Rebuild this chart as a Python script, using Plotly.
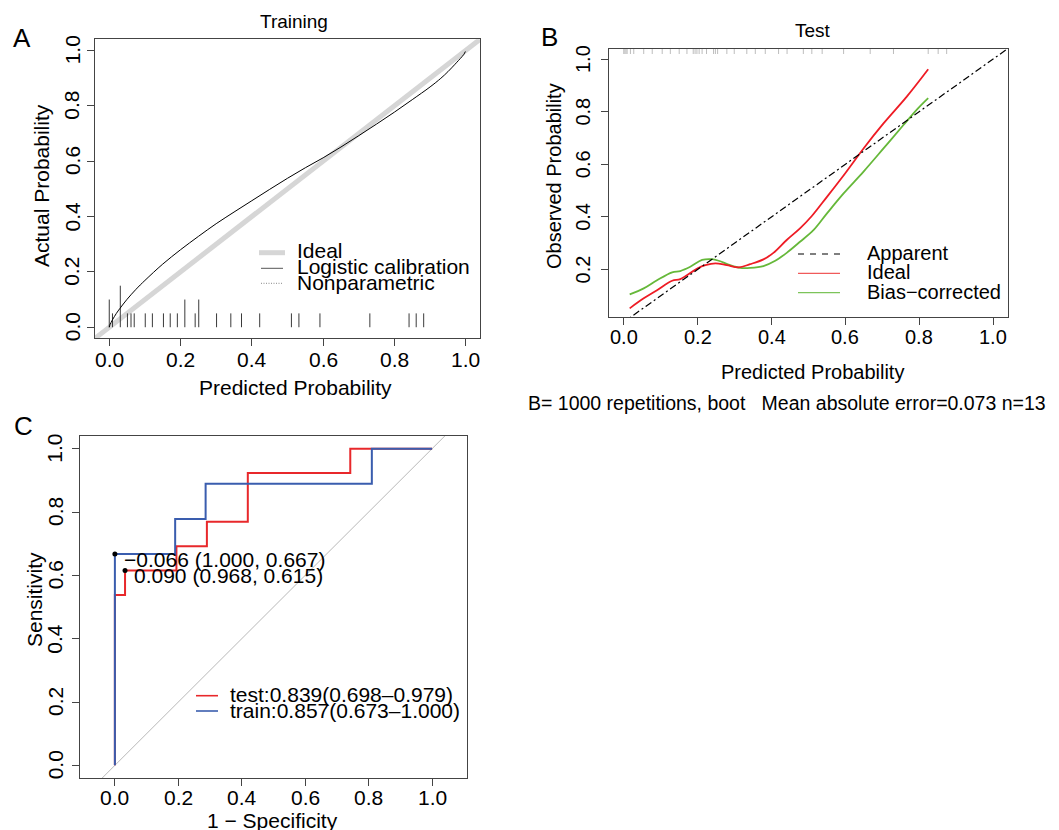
import plotly.graph_objects as go

W, H = 1059, 830
OFF = 8  # page body margin of the html page
F = "Liberation Sans"

# ---------------- Panel A: Training calibration ----------------
a_cal_x = [0.0, 0.002, 0.005, 0.01, 0.02, 0.03, 0.05, 0.075, 0.1, 0.15, 0.2, 0.25, 0.3, 0.35,
           0.4, 0.45, 0.5, 0.55, 0.6, 0.65, 0.7, 0.75, 0.8, 0.85, 0.9, 0.93, 0.95, 0.97, 0.98,
           0.99, 0.995, 0.999]
a_cal_y = [0.0, 0.009, 0.017, 0.029, 0.050, 0.068, 0.101, 0.137, 0.169, 0.228, 0.280, 0.328,
           0.374, 0.416, 0.457, 0.498, 0.538, 0.576, 0.612, 0.651, 0.692, 0.734, 0.777, 0.822,
           0.868, 0.899, 0.923, 0.950, 0.964, 0.978, 0.986, 0.996]
a_rug_x = [0.0, 0.009, 0.031, 0.051, 0.061, 0.070, 0.101, 0.121, 0.152, 0.171, 0.191, 0.212,
           0.241, 0.251, 0.301, 0.341, 0.371, 0.422, 0.511, 0.532, 0.591, 0.731, 0.841, 0.861,
           0.882]
a_rug_n = [2, 1, 3, 1, 1, 1, 1, 1, 1, 1, 1, 2, 1, 2, 1, 1, 1, 1, 1, 1, 1, 1, 1, 1, 1]
a_rug_unit = 0.05

# ---------------- Panel B: Test calibration ----------------
b_red_x = [0.016, 0.054, 0.090, 0.131, 0.153, 0.200, 0.221, 0.248, 0.279, 0.311, 0.342, 0.378,
           0.405, 0.441, 0.477, 0.509, 0.550, 0.599, 0.649, 0.703, 0.766, 0.824]
b_red_y = [0.052, 0.090, 0.121, 0.157, 0.163, 0.204, 0.216, 0.223, 0.216, 0.208, 0.220, 0.238,
           0.263, 0.312, 0.356, 0.403, 0.476, 0.565, 0.660, 0.755, 0.857, 0.961]
b_green_x = [0.016, 0.054, 0.090, 0.131, 0.153, 0.180, 0.212, 0.239, 0.257, 0.288, 0.315, 0.342,
             0.378, 0.410, 0.441, 0.477, 0.514, 0.550, 0.595, 0.649, 0.703, 0.757, 0.797, 0.824]
b_green_y = [0.105, 0.128, 0.159, 0.189, 0.194, 0.210, 0.236, 0.239, 0.233, 0.216, 0.206, 0.206,
             0.213, 0.233, 0.263, 0.305, 0.350, 0.413, 0.489, 0.572, 0.660, 0.749, 0.813, 0.851]
b_rug_x = [0.0, 0.003, 0.006, 0.009, 0.018, 0.027, 0.054, 0.077, 0.104, 0.126, 0.150, 0.171,
           0.188, 0.193, 0.198, 0.204, 0.212, 0.224, 0.243, 0.248, 0.254, 0.279, 0.299, 0.333,
           0.356, 0.383, 0.419, 0.442, 0.486, 0.509, 0.537, 0.595, 0.667, 0.730, 0.824, 0.851,
           0.874]
b_sub = "B= 1000 repetitions, boot   Mean absolute error=0.073 n=13"

# ---------------- Panel C: ROC ----------------
test_fpr = [0.0, 0.0, 0.032, 0.194, 0.290, 0.419, 0.742, 1.0]
test_tpr = [0.0, 0.538, 0.615, 0.692, 0.769, 0.923, 1.0, 1.0]
train_fpr = [0.0, 0.0, 0.190, 0.286, 0.810, 1.0]
train_tpr = [0.0, 0.667, 0.778, 0.889, 1.0, 1.0]
best_x = [0.0, 0.032]
best_y = [0.667, 0.615]
best_labels = ["\u22120.066 (1.000, 0.667)", "0.090 (0.968, 0.615)"]
legend_c = ["test:0.839(0.698\u20130.979)", "train:0.857(0.673\u20131.000)"]

ticks6 = [0.0, 0.2, 0.4, 0.6, 0.8, 1.0]
ticks5 = [0.2, 0.4, 0.6, 0.8, 1.0]

RED_C = "#E8282B"
BLUE_C = "#3A5DAE"
GREEN_B = "#66B83A"

# ranges
a_xr = [-0.04, 1.04]
a_yr = [-0.04, 1.04]
b_xr = [-0.04, 1.04]
b_yr = [0.018, 1.038]
c_xr = [-0.11, 1.11]
c_yr = [-0.04, 1.04]

fig = go.Figure()

# Panel A traces
fig.add_trace(go.Scatter(x=a_xr, y=a_yr, mode="lines", line=dict(color="#d6d6d6", width=5),
                         xaxis="x", yaxis="y", hoverinfo="skip"))
rx, ry = [], []
for v, n in zip(a_rug_x, a_rug_n):
    rx += [v, v, None]
    ry += [0, n * a_rug_unit, None]
fig.add_trace(go.Scatter(x=rx, y=ry, mode="lines", line=dict(color="#3a3a3a", width=1),
                         xaxis="x", yaxis="y", hoverinfo="skip"))
fig.add_trace(go.Scatter(x=a_cal_x, y=a_cal_y, mode="lines", line=dict(color="black", width=1),
                         line_shape="spline", xaxis="x", yaxis="y"))

# Panel B traces
bx, by = [], []
for v in b_rug_x:
    bx += [v, v, None]
    by += [b_yr[1], b_yr[1] - 0.019, None]
fig.add_trace(go.Scatter(x=bx, y=by, mode="lines", line=dict(color="#bdbdbd", width=1),
                         xaxis="x2", yaxis="y2", hoverinfo="skip"))
fig.add_trace(go.Scatter(x=b_green_x, y=b_green_y, mode="lines", line=dict(color=GREEN_B, width=1.8),
                         line_shape="spline", xaxis="x2", yaxis="y2"))
fig.add_trace(go.Scatter(x=b_red_x, y=b_red_y, mode="lines", line=dict(color="#EE1C25", width=1.8),
                         line_shape="spline", xaxis="x2", yaxis="y2"))
fig.add_trace(go.Scatter(x=b_xr, y=b_xr, mode="lines",
                         line=dict(color="black", width=1.2, dash="7px,3px,2px,3px"),
                         xaxis="x2", yaxis="y2", hoverinfo="skip"))

# Panel C traces
fig.add_trace(go.Scatter(x=c_xr, y=c_xr, mode="lines", line=dict(color="#b8b8b8", width=1),
                         xaxis="x3", yaxis="y3", hoverinfo="skip"))
fig.add_trace(go.Scatter(x=test_fpr, y=test_tpr, mode="lines", line=dict(color=RED_C, width=2),
                         line_shape="hv", xaxis="x3", yaxis="y3"))
fig.add_trace(go.Scatter(x=train_fpr, y=train_tpr, mode="lines", line=dict(color=BLUE_C, width=2),
                         line_shape="hv", xaxis="x3", yaxis="y3"))
fig.add_trace(go.Scatter(x=best_x, y=best_y, mode="markers", marker=dict(color="black", size=5),
                         xaxis="x3", yaxis="y3"))
for x, y, t in zip(best_x, best_y, best_labels):
    fig.add_annotation(x=x, y=y, xref="x3", yref="y3", text=t, showarrow=False,
                       xanchor="left", yanchor="middle", xshift=7, yshift=-5,
                       font=dict(family=F, size=21, color="black"))


def px(x):
    return (x - OFF) / W


def py(y):
    return 1 - (y - OFF) / H


def dx(a, b):
    return [px(a), px(b)]


def dy(top, bottom):
    return [py(bottom), py(top)]


def axis(dom, rng, vals, anchor):
    return dict(domain=dom, range=rng, tickvals=vals, showticklabels=False, showgrid=False,
                zeroline=False, showline=True, linecolor="#444", linewidth=1, mirror=True,
                ticks="outside", ticklen=7, tickcolor="#444", tickwidth=1, anchor=anchor)


fig.update_layout(
    width=W, height=H, autosize=False, showlegend=False,
    margin=dict(l=0, r=0, t=0, b=0),
    paper_bgcolor="white", plot_bgcolor="white",
    xaxis=axis(dx(95, 480), a_xr, ticks6, "y"),
    yaxis=axis(dy(39.3, 338.3), a_yr, ticks6, "x"),
    xaxis2=axis(dx(609, 1008), b_xr, ticks6, "y2"),
    yaxis2=axis(dy(49, 317.3), b_yr, ticks5, "x2"),
    xaxis3=axis(dx(80, 467), c_xr, ticks6, "y3"),
    yaxis3=axis(dy(436, 778), c_yr, ticks6, "x3"),
)


def text(s, x, y, size, xanchor="center", angle=0):
    fig.add_annotation(text=s, x=px(x), y=py(y), xref="paper", yref="paper", showarrow=False,
                       font=dict(family=F, size=size, color="black"), xanchor=xanchor,
                       yanchor="middle", textangle=angle)


def xticklabels(vals, axref, ypix, size):
    for v in vals:
        fig.add_annotation(text=f"{v:.1f}", x=v, xref=axref, y=py(ypix), yref="paper",
                           showarrow=False, xanchor="center", yanchor="middle",
                           font=dict(family=F, size=size, color="black"))


def yticklabels(vals, axref, xpix, size):
    for v in vals:
        fig.add_annotation(text=f"{v:.1f}", y=v, yref=axref, x=px(xpix), xref="paper",
                           showarrow=False, xanchor="center", yanchor="middle", textangle=-90,
                           font=dict(family=F, size=size, color="black"))


def legline(x0, x1, y, color, width, dash="solid"):
    fig.add_shape(type="line", xref="paper", yref="paper", x0=px(x0), x1=px(x1),
                  y0=py(y), y1=py(y), line=dict(color=color, width=width, dash=dash))


# tick labels
xticklabels(ticks6, "x", 359, 21)
yticklabels(ticks6, "y", 72, 21)
xticklabels(ticks6, "x2", 337, 20)
yticklabels(ticks5, "y2", 583, 20)
xticklabels(ticks6, "x3", 797.5, 21)
yticklabels(ticks6, "y3", 55, 21)

# Panel labels and titles
text("A", 22, 38, 26)
text("B", 549, 37, 26)
text("C", 23, 426, 26)
text("Training", 294, 22, 19)
text("Test", 813, 30, 19)

# axis titles
text("Predicted Probability", 295, 387, 21)
text("Actual Probability", 42, 186, 21, angle=-90)
text("Predicted Probability", 812, 372, 20)
text("Observed Probability", 554, 176, 20, angle=-90)
text(b_sub, 526, 403, 19.5, xanchor="left")
text("1 \u2212 Specificity", 272, 820, 21)
text("Sensitivity", 34, 600, 21, angle=-90)

# Legend A
legline(259, 285, 252.7, "#d6d6d6", 5)
legline(261, 283, 268.3, "#555", 1)
legline(261, 283, 283.3, "#888", 1, "1px,1.5px")
text("Ideal", 295, 250.7, 21, xanchor="left")
text("Logistic calibration", 295, 266.3, 21, xanchor="left")
text("Nonparametric", 295, 282.3, 21, xanchor="left")

# Legend B
legline(798, 840, 254, "black", 1.2, "6px,6px")
legline(798, 840, 273.3, "#F05A5A", 1.2)
legline(798, 840, 292.7, "#7CC45A", 1.2)
text("Apparent", 865, 253, 20, xanchor="left")
text("Ideal", 865, 272.3, 20, xanchor="left")
text("Bias\u2212corrected", 865, 291.7, 20, xanchor="left")

# Legend C
legline(196, 218, 695.7, RED_C, 1.6)
legline(196, 218, 711, BLUE_C, 1.6)
text(legend_c[0], 228, 694.7, 21, xanchor="left")
text(legend_c[1], 228, 710, 21, xanchor="left")

fig.write_html("out.html")
